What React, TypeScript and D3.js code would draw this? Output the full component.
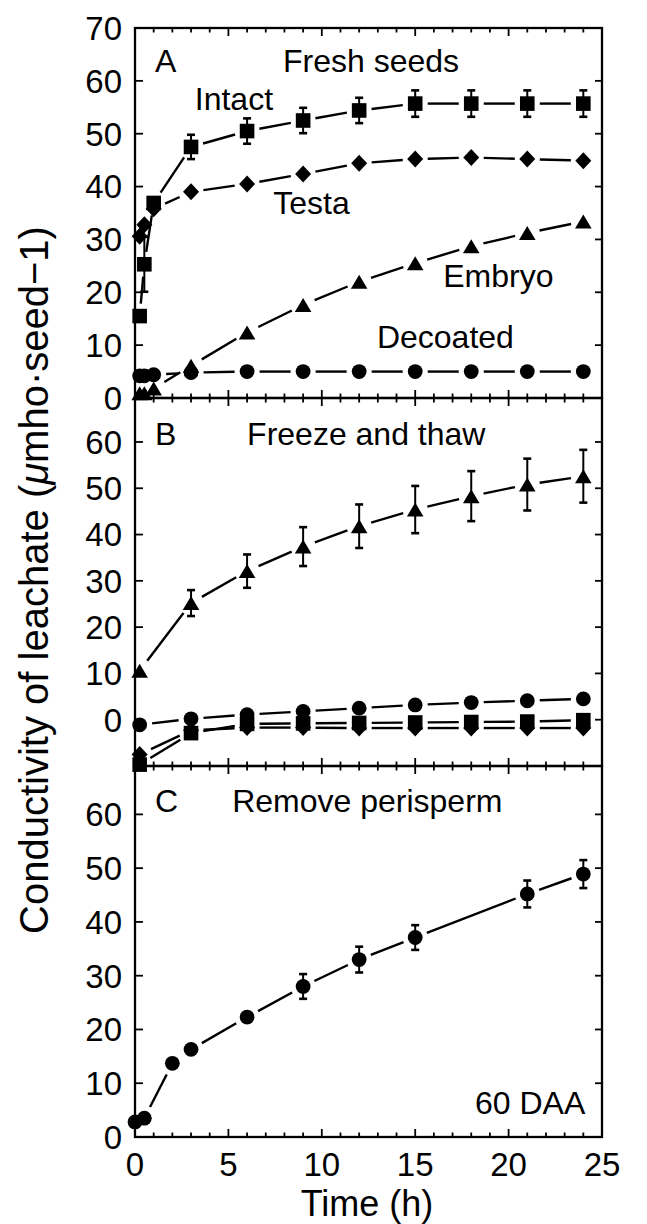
import React from "react";
import * as d3 from "d3";

// Panel A: fresh seeds
const freshTimes = [0.25, 0.5, 1, 3, 6, 9, 12, 15, 18, 21, 24];
const freshIntact = [15.5, 25.3, 36.9, 47.5, 50.5, 52.5, 54.4, 55.7, 55.7, 55.7, 55.7];
const freshIntactErr = [0, 5.2, 0, 2.3, 2.4, 2.4, 2.4, 2.5, 2.5, 2.5, 2.5];
const freshTesta = [30.6, 32.8, 35.8, 39.0, 40.5, 42.4, 44.4, 45.2, 45.5, 45.2, 44.9];
const freshEmbryo = [0.9, 0.9, 1.8, 6.1, 12.4, 17.6, 22.0, 25.5, 28.7, 31.2, 33.4];
const freshDecoated = [4.2, 4.2, 4.4, 4.8, 5.0, 5.0, 5.0, 5.0, 5.0, 5.0, 5.0];

// Panel B: freeze and thaw
const thawTimes = [0.25, 3, 6, 9, 12, 15, 18, 21, 24];
const thawEmbryo = [10.6, 25.2, 32.1, 37.4, 41.8, 45.4, 48.3, 50.8, 52.6];
const thawEmbryoErr = [0, 2.8, 3.6, 4.2, 4.7, 5.1, 5.4, 5.6, 5.7];
const thawDecoated = [-1.1, 0.2, 1.1, 1.8, 2.5, 3.2, 3.7, 4.1, 4.5];
const thawIntact = [-9.7, -2.9, -0.9, -0.8, -0.7, -0.6, -0.5, -0.4, -0.1];
const thawTesta = [-7.5, -2.3, -1.7, -1.7, -1.8, -1.8, -1.8, -1.8, -1.8];

// Panel C: remove perisperm
const removeTimes = [0, 0.5, 2, 3, 6, 9, 12, 15, 21, 24];
const removePerisperm = [2.8, 3.5, 13.7, 16.3, 22.3, 28.0, 33.0, 37.1, 45.2, 48.9];
const removeErr = [0, 0, 0, 0, 0, 2.3, 2.4, 2.3, 2.5, 2.6];

const ticksA = [0, 10, 20, 30, 40, 50, 60, 70];
const ticksBC = [0, 10, 20, 30, 40, 50, 60];
const xMajor = [0, 5, 10, 15, 20, 25];
const xMinor = d3.range(0, 26);

const font = "'Liberation Sans', Arial, sans-serif";

const x = d3.scaleLinear().domain([0, 25]).range([135, 602]);
const yA = d3.scaleLinear().domain([0, 70]).range([398, 28]);
const yB = d3.scaleLinear().domain([-10, 69.5]).range([766, 398]);
const yC = d3.scaleLinear().domain([0, 69]).range([1137, 766]);

type Shape = "square" | "circle" | "diamond" | "triangle";

function Marker({ cx, cy, shape }: { cx: number; cy: number; shape: Shape }) {
  if (shape === "square") return <rect x={cx - 7.3} y={cy - 7.3} width={14.6} height={14.6} fill="#000" />;
  if (shape === "circle") return <circle cx={cx} cy={cy} r={7.4} fill="#000" />;
  if (shape === "diamond")
    return <path d={`M${cx},${cy - 8.5}L${cx + 8},${cy}L${cx},${cy + 8.5}L${cx - 8},${cy}Z`} fill="#000" />;
  return <path d={`M${cx},${cy - 7}L${cx + 8.3},${cy + 7}L${cx - 8.3},${cy + 7}Z`} fill="#000" />;
}

// line segments that stop short of the markers
function Series({ ts, vs, errs, y, shape }: { ts: number[]; vs: number[]; errs?: number[]; y: any; shape: Shape }) {
  const pts = ts.map((t, i) => [x(t), y(vs[i])]);
  const gap = 12.5;
  const segs: number[][] = [];
  for (let i = 0; i < pts.length - 1; i++) {
    const [x1, y1] = pts[i];
    const [x2, y2] = pts[i + 1];
    const d = Math.hypot(x2 - x1, y2 - y1);
    if (d <= gap * 2 + 2) continue;
    const ux = (x2 - x1) / d, uy = (y2 - y1) / d;
    segs.push([x1 + ux * gap, y1 + uy * gap, x2 - ux * gap, y2 - uy * gap]);
  }
  return (
    <g>
      {segs.map((s, i) => (
        <line key={"s" + i} x1={s[0]} y1={s[1]} x2={s[2]} y2={s[3]} stroke="#000" strokeWidth={2.4} />
      ))}
      {errs &&
        ts.map((t, i) =>
          errs[i] > 0 ? (
            <g key={"e" + i} stroke="#000" strokeWidth={2}>
              <line x1={x(t)} x2={x(t)} y1={y(vs[i] - errs[i])} y2={y(vs[i] + errs[i])} />
              <line x1={x(t) - 4} x2={x(t) + 4} y1={y(vs[i] - errs[i])} y2={y(vs[i] - errs[i])} strokeWidth={2.6} />
              <line x1={x(t) - 4} x2={x(t) + 4} y1={y(vs[i] + errs[i])} y2={y(vs[i] + errs[i])} strokeWidth={2.6} />
            </g>
          ) : null
        )}
      {pts.map((p, i) => (
        <Marker key={"m" + i} cx={p[0]} cy={p[1]} shape={shape} />
      ))}
    </g>
  );
}

function Frame({ y, yTicks, bottomLabels }: { y: any; yTicks: number[]; bottomLabels?: boolean }) {
  const [y0, y1] = y.range();
  const [x0, x1] = x.range();
  return (
    <g stroke="#000">
      <rect x={x0} y={y1} width={x1 - x0} height={y0 - y1} fill="none" strokeWidth={2.3} />
      {xMinor.map((t) => {
        const len = t % 5 === 0 ? 8 : 4.5;
        return (
          <g key={t} strokeWidth={1.8}>
            <line x1={x(t)} x2={x(t)} y1={y0} y2={y0 - len} />
            <line x1={x(t)} x2={x(t)} y1={y1} y2={y1 + len} />
          </g>
        );
      })}
      {yTicks.map((v) => (
        <g key={v} strokeWidth={1.8}>
          <line x1={x0} x2={x0 + 8} y1={y(v)} y2={y(v)} />
          <line x1={x1} x2={x1 - 7} y1={y(v)} y2={y(v)} />
        </g>
      ))}
      {yTicks.map((v) => (
        <text key={"l" + v} x={122} y={y(v)} dy="0.36em" textAnchor="end" fontSize={33} stroke="none" fill="#000">
          {v}
        </text>
      ))}
      {bottomLabels &&
        xMajor.map((t) => (
          <text key={"x" + t} x={x(t)} y={1176} textAnchor="middle" fontSize={33} stroke="none" fill="#000">
            {t}
          </text>
        ))}
    </g>
  );
}

function Label({ t, v, y, text }: { t: number; v: number; y: any; text: string }) {
  return (
    <text x={x(t)} y={y(v)} fontSize={32} fill="#000">
      {text}
    </text>
  );
}

export default function App() {
  return (
    <svg
      width={647}
      height={1224}
      style={{ position: "absolute", left: 0, top: 0, background: "#fff" }}
      fontFamily={font}
    >
      <rect width={647} height={1224} fill="#fff" />

      {/* Panel A */}
      <Frame y={yA} yTicks={ticksA} />
      <Series ts={freshTimes} vs={freshDecoated} y={yA} shape="circle" />
      <Series ts={freshTimes} vs={freshEmbryo} y={yA} shape="triangle" />
      <Series ts={freshTimes} vs={freshTesta} y={yA} shape="diamond" />
      <Series ts={freshTimes} vs={freshIntact} errs={freshIntactErr} y={yA} shape="square" />
      <Label t={1.07} v={61.7} y={yA} text="A" />
      <Label t={7.92} v={61.7} y={yA} text="Fresh seeds" />
      <Label t={3.2} v={54.5} y={yA} text="Intact" />
      <Label t={7.4} v={34.8} y={yA} text="Testa" />
      <Label t={16.5} v={21.0} y={yA} text="Embryo" />
      <Label t={12.95} v={9.4} y={yA} text="Decoated" />

      {/* Panel B */}
      <Frame y={yB} yTicks={ticksBC} />
      <Series ts={thawTimes} vs={thawTesta} y={yB} shape="diamond" />
      <Series ts={thawTimes} vs={thawIntact} y={yB} shape="square" />
      <Series ts={thawTimes} vs={thawDecoated} y={yB} shape="circle" />
      <Series ts={thawTimes} vs={thawEmbryo} errs={thawEmbryoErr} y={yB} shape="triangle" />
      <Label t={1.07} v={59.3} y={yB} text="B" />
      <Label t={6.0} v={59.3} y={yB} text="Freeze and thaw" />

      {/* Panel C */}
      <Frame y={yC} yTicks={ticksBC} bottomLabels />
      <Series ts={removeTimes} vs={removePerisperm} errs={removeErr} y={yC} shape="circle" />
      <Label t={1.07} v={60.5} y={yC} text="C" />
      <Label t={5.2} v={60.5} y={yC} text="Remove perisperm" />
      <Label t={18.2} v={4.3} y={yC} text="60 DAA" />

      {/* axis titles */}
      <text x={367} y={1216} textAnchor="middle" fontSize={36} fill="#000">
        Time (h)
      </text>
      <text transform="translate(48,580) rotate(-90)" textAnchor="middle" fontSize={40} fill="#000">
        Conductivity of leachate (<tspan fontStyle="italic">μ</tspan>mho·seed−1)
      </text>
    </svg>
  );
}
